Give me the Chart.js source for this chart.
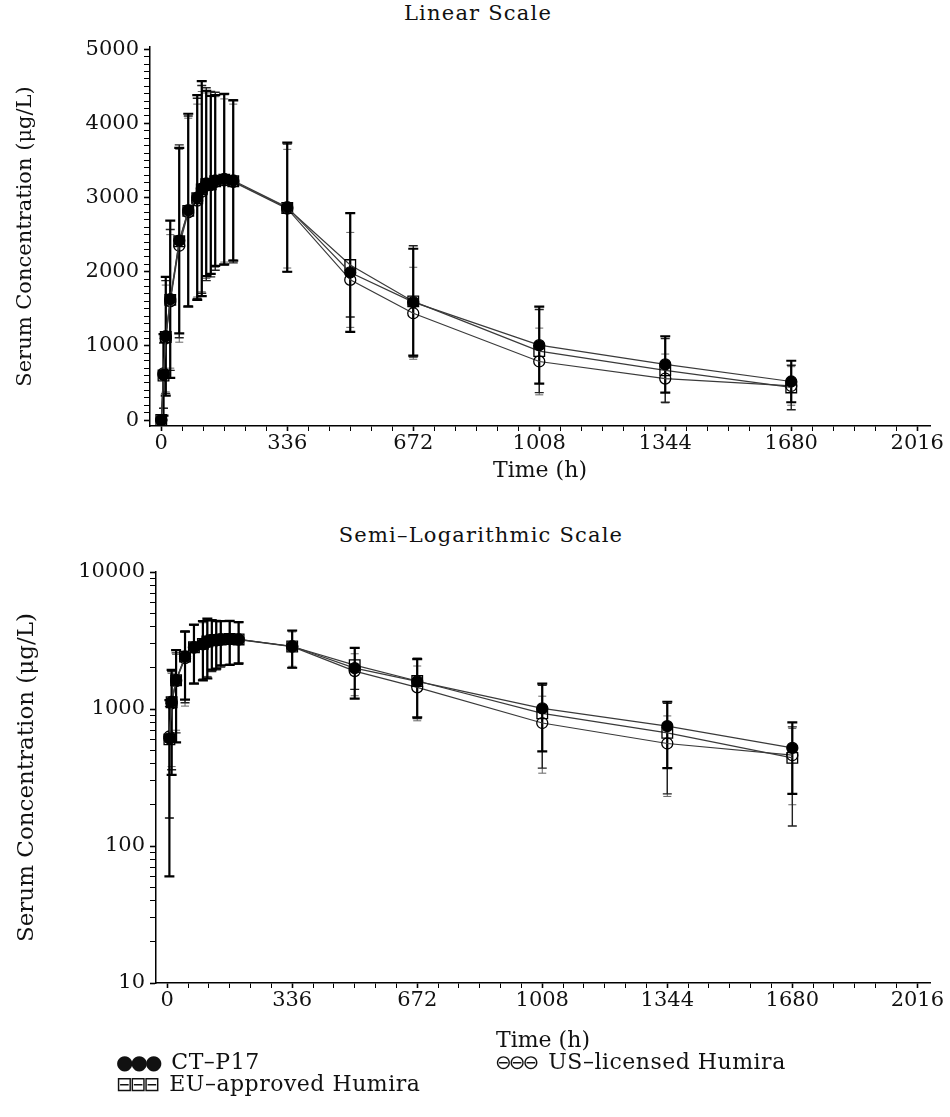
<!DOCTYPE html>
<html>
<head>
<meta charset="utf-8">
<script src="https://cdn.jsdelivr.net/npm/chart.js@4.4.1/dist/chart.umd.min.js"></script>
<style>
  body { margin: 0; background: #fff; width: 950px; height: 1117px; position: relative; overflow: hidden; font-family: "DejaVu Serif", serif; color: #111; }
  .box { position: absolute; left: 0; width: 950px; }
  .title { position: absolute; font-size: 21px; white-space: nowrap; transform: translateX(-50%); letter-spacing: 1.2px; }
  .legend { position: absolute; font-size: 22px; white-space: nowrap; letter-spacing: 0.5px; }
  .sym { font-family: "DejaVu Sans", sans-serif; font-size: 20px; letter-spacing: -3px; margin-right: 12px; }
</style>
</head>
<body>
<div class="title" style="left:478px; top:1px;">Linear Scale</div>
<div class="box" style="top:0; height:490px;"><canvas id="linChart" width="950" height="490"></canvas></div>
<div class="title" style="left:481px; top:523px;">Semi–Logarithmic Scale</div>
<div class="box" style="top:500px; height:560px;"><canvas id="logChart" width="950" height="560"></canvas></div>
<div class="legend" style="left:116px; top:1049px;"><span class="sym">●●●</span>CT–P17</div>
<div class="legend" style="left:495px; top:1049px;"><span class="sym">⊖⊖⊖</span>US–licensed Humira</div>
<div class="legend" style="left:116px; top:1071px;"><span class="sym">⊟⊟⊟</span>EU–approved Humira</div>

<script>
// sampling times (h)
const times = [0, 6, 12, 24, 48, 72, 96, 108, 120, 132, 144, 168, 192, 336, 504, 672, 1008, 1344, 1680];

// mean serum concentration (ug/L)
const ctMean = [0, 610, 1130, 1630, 2420, 2830, 3000, 3120, 3190, 3170, 3230, 3250, 3230, 2870, 1990, 1590, 1010, 750, 520];
const euMean = [0, 600, 1120, 1620, 2410, 2820, 2990, 3110, 3180, 3180, 3220, 3240, 3220, 2860, 2090, 1600, 930, 670, 440];
const usMean = [0, 630, 1100, 1600, 2350, 2800, 2960, 3080, 3160, 3170, 3210, 3230, 3210, 2850, 1890, 1440, 790, 560, 460];

// standard deviations
const ctSD = [0, 550, 800, 1060, 1250, 1300, 1380, 1450, 1250, 1200, 1150, 1150, 1080, 870, 800, 720, 520, 380, 280];
const euSD = [0, 440, 760, 950, 1300, 1280, 1350, 1400, 1300, 1250, 1200, 1150, 1100, 860, 700, 750, 560, 430, 300];
const usSD = [0, 470, 720, 900, 1300, 1270, 1300, 1350, 1250, 1200, 1150, 1100, 1050, 800, 640, 620, 450, 330, 260];

// axis ticks
const xTickLabels = [0, 336, 672, 1008, 1344, 1680, 2016];
const xMinorStep = 56;
const yLinTickLabels = [0, 1000, 2000, 3000, 4000, 5000];
const yLinMinorStep = 100;
const yLogTickLabels = [10, 100, 1000, 10000];

const FONT = 'DejaVu Serif';

// error bars drawn with the chart's own scales
const errorBars = {
    id: 'errorBars',
    beforeDatasetsDraw(chart) {
        const { ctx, scales: { x, y } } = chart;
        ctx.save();
        for (let i = chart.data.datasets.length - 1; i >= 0; i--) {
            const ds = chart.data.datasets[i];
            ds.data.forEach((p, j) => {
                if (p.y == null || !ds.sd[j]) return;
                const px = x.getPixelForValue(p.x);
                const hi = y.getPixelForValue(p.y + ds.sd[j]);
                const lo = y.getPixelForValue(Math.max(p.y - ds.sd[j], y.min));
                ctx.strokeStyle = ds.ebColor;
                ctx.lineWidth = ds.ebWidth;
                ctx.beginPath();
                ctx.moveTo(px, hi); ctx.lineTo(px, lo);
                ctx.moveTo(px - ds.cap, hi); ctx.lineTo(px + ds.cap, hi);
                ctx.moveTo(px - ds.cap, lo); ctx.lineTo(px + ds.cap, lo);
                ctx.stroke();
            });
        }
        ctx.restore();
    }
};

function makeDatasets(isLog) {
    const pts = (mean) => times.map((t, i) => ({ x: t, y: (isLog && mean[i] <= 0) ? null : mean[i] }));
    const common = { borderColor: '#3a3a3a', borderWidth: 1.2, tension: 0, spanGaps: true, pointBorderColor: '#000', pointBorderWidth: 1.3 };
    return [
        Object.assign({ label: 'CT-P17', data: pts(ctMean), sd: ctSD, ebColor: '#000', ebWidth: 2.2, cap: 5,
            pointStyle: 'circle', pointRadius: 5.5, pointBackgroundColor: '#000' }, common),
        Object.assign({ label: 'EU-approved Humira', data: pts(euMean), sd: euSD, ebColor: '#222', ebWidth: 1.4, cap: 4.5,
            pointStyle: 'rect', pointRadius: 7.5, pointBackgroundColor: 'rgba(255,255,255,0)' }, common),
        Object.assign({ label: 'US-licensed Humira', data: pts(usMean), sd: usSD, ebColor: '#666', ebWidth: 1, cap: 4,
            pointStyle: 'circle', pointRadius: 5.5, pointBackgroundColor: 'rgba(255,255,255,0)' }, common)
    ];
}

function xTicks() {
    const out = [];
    for (let v = xTickLabels[0]; v <= xTickLabels[xTickLabels.length - 1]; v += xMinorStep) out.push({ value: v });
    return out;
}

function yLinTicks() {
    const out = [];
    for (let v = yLinTickLabels[0]; v <= yLinTickLabels[yLinTickLabels.length - 1]; v += yLinMinorStep) out.push({ value: v });
    return out;
}

function yLogTicks() {
    const out = [];
    yLogTickLabels.forEach((d, i) => {
        out.push({ value: d });
        if (i < yLogTickLabels.length - 1) {
            for (let k = 2; k <= 9; k++) out.push({ value: d * k });
        }
    });
    return out;
}

function createChart(canvasId, cfg) {
    const ctx = document.getElementById(canvasId).getContext('2d');
    return new Chart(ctx, {
        type: 'line',
        data: { datasets: makeDatasets(cfg.log) },
        plugins: [errorBars],
        options: {
            responsive: false,
            animation: false,
            layout: { padding: { top: cfg.padTop, right: 20, bottom: 0, left: 0 } },
            plugins: { legend: { display: false }, tooltip: { enabled: false } },
            scales: {
                x: {
                    type: 'linear',
                    min: -30,
                    max: 2050,
                    afterFit: (s) => { s.height = cfg.xHeight; },
                    afterBuildTicks: (s) => { s.ticks = xTicks(); },
                    border: { display: true, color: '#000', width: 1.5 },
                    grid: { drawOnChartArea: false, tickLength: 5, tickColor: '#000',
                        tickWidth: (c) => xTickLabels.includes(c.tick && c.tick.value) ? 1.6 : 1 },
                    ticks: {
                        autoSkip: false, maxRotation: 0, padding: 0, color: '#111',
                        font: { family: FONT, size: 21 },
                        callback: (v) => xTickLabels.includes(v) ? String(v) : ''
                    },
                    title: { display: true, text: 'Time (h)', color: '#111',
                        font: { family: FONT, size: 22 }, padding: { top: 0, bottom: 6 } }
                },
                y: {
                    type: cfg.log ? 'logarithmic' : 'linear',
                    min: cfg.yMin,
                    max: cfg.yMax,
                    afterFit: (s) => { s.width = cfg.yWidth; },
                    afterBuildTicks: (s) => { s.ticks = cfg.log ? yLogTicks() : yLinTicks(); },
                    border: { display: true, color: '#000', width: 1.5 },
                    grid: { drawOnChartArea: false, tickLength: 6, tickColor: '#000',
                        tickWidth: (c) => cfg.yLabels.includes(c.tick && c.tick.value) ? 1.6 : 1 },
                    ticks: {
                        autoSkip: false, padding: 5, color: '#111',
                        font: { family: FONT, size: 21 },
                        callback: (v) => cfg.yLabels.includes(v) ? String(v) : ''
                    },
                    title: { display: true, text: 'Serum Concentration (μg/L)', color: '#111',
                        font: { family: FONT, size: cfg.yTitleSize }, padding: { top: 13, bottom: 0 } }
                }
            }
        }
    });
}

createChart('linChart', { log: false, padTop: 47, xHeight: 64, yWidth: 150, yMin: -80, yMax: 5030,
    yLabels: yLinTickLabels, yTitleSize: 21 });
createChart('logChart', { log: true, padTop: 72, xHeight: 77, yWidth: 156, yMin: 10, yMax: 10000,
    yLabels: yLogTickLabels, yTitleSize: 23 });
</script>
</body>
</html>
